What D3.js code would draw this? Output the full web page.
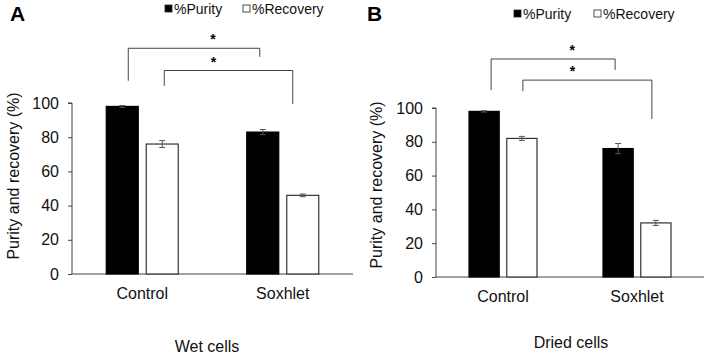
<!DOCTYPE html>
<html>
<head>
<meta charset="utf-8">
<script src="https://cdn.jsdelivr.net/npm/d3@7/dist/d3.min.js"></script>
<style>
  body { margin: 0; background: #fff; }
  svg { display: block; font-family: "Liberation Sans", Arial, sans-serif; }
</style>
</head>
<body>
<svg id="chart" width="706" height="354"></svg>
<script>
// data
let categories = ["Control", "Soxhlet"];
let series = ["%Purity", "%Recovery"];
let yTicks = [0, 20, 40, 60, 80, 100];

let wetPurity = [98, 83];
let wetPurityErr = [0.5, 1.5];
let wetRecovery = [76, 46];
let wetRecoveryErr = [2, 0.8];

let driedPurity = [98, 76];
let driedPurityErr = [0.4, 3];
let driedRecovery = [82, 32];
let driedRecoveryErr = [1.2, 1.5];

// significance brackets: [series index, top, left leg end, right leg end] in axis units
let wetBrackets = [[0, 132, 113, 127], [1, 119, 110, 99.5]];
let driedBrackets = [[0, 129, 110.5, 122.5], [1, 116.5, 110, 93.5]];

let panels = [
    {
        letter: "A", title: "Wet cells",
        purity: wetPurity, purityErr: wetPurityErr,
        recovery: wetRecovery, recoveryErr: wetRecoveryErr,
        brackets: wetBrackets,
        x0: 72, x1: 353, yTop: 103, yBottom: 274, half: 36,
        letterX: 10, legendX: 165, legendY: 9, legendGap: 78,
        yLabelX: 13, yLabelY: 176, catY: 299, titleX: 207, titleY: 352,
        bracketShift: [[6, -3], [2, -10]]
    },
    {
        letter: "B", title: "Dried cells",
        purity: driedPurity, purityErr: driedPurityErr,
        recovery: driedRecovery, recoveryErr: driedRecoveryErr,
        brackets: driedBrackets,
        x0: 436, x1: 704, yTop: 108, yBottom: 277, half: 34,
        letterX: 367, legendX: 514, legendY: 14, legendGap: 80,
        yLabelX: 376, yLabelY: 185, catY: 302, titleX: 571, titleY: 348,
        bracketShift: [[7, -3], [1, -4]]
    }
];

let svg = d3.select("#chart");

function drawPanel(p) {
    let g = svg.append("g");

    let x = d3.scaleBand().domain(categories).range([p.x0, p.x1]).padding(0);
    let xs = d3.scaleBand().domain(series).range([-p.half, p.half]).paddingInner(0.2);
    let y = d3.scaleLinear().domain([0, 100]).range([p.yBottom, p.yTop]);

    // y axis
    let yAxis = g.append("g")
        .attr("transform", "translate(" + p.x0 + ",0)")
        .call(d3.axisLeft(y).tickValues(yTicks).tickSize(4).tickPadding(9));
    yAxis.select(".domain").attr("stroke", "#444").attr("d", "M-4," + y(100) + "H0V" + y(0));
    yAxis.selectAll(".tick line").attr("stroke", "#444");
    yAxis.selectAll(".tick text").attr("font-size", 16).attr("fill", "#111")
        .attr("font-family", "Liberation Sans, Arial, sans-serif");

    // x axis line
    g.append("line")
        .attr("x1", p.x0).attr("x2", p.x1)
        .attr("y1", y(0)).attr("y2", y(0))
        .attr("stroke", "#444");

    let rows = [];
    categories.forEach(function (c, i) {
        rows.push({cat: c, s: series[0], v: p.purity[i], e: p.purityErr[i]});
        rows.push({cat: c, s: series[1], v: p.recovery[i], e: p.recoveryErr[i]});
    });

    function cx(d) {
        return x(d.cat) + x.bandwidth() / 2 + xs(d.s);
    }

    g.selectAll("rect.bar")
        .data(rows)
        .enter().append("rect")
        .attr("class", "bar")
        .attr("x", cx)
        .attr("width", xs.bandwidth())
        .attr("y", d => y(d.v))
        .attr("height", d => y(0) - y(d.v))
        .attr("fill", d => d.s === series[0] ? "#000" : "#fff")
        .attr("stroke", d => d.s === series[0] ? "#000" : "#333")
        .attr("stroke-width", 1.2);

    // error bars
    let eb = g.selectAll("g.err")
        .data(rows)
        .enter().append("g")
        .attr("stroke", "#555")
        .attr("stroke-width", 1);
    eb.append("line")
        .attr("x1", d => cx(d) + xs.bandwidth() / 2)
        .attr("x2", d => cx(d) + xs.bandwidth() / 2)
        .attr("y1", d => y(d.v + d.e))
        .attr("y2", d => y(d.v - d.e));
    [1, -1].forEach(function (sign) {
        eb.append("line")
            .attr("x1", d => cx(d) + xs.bandwidth() / 2 - 3)
            .attr("x2", d => cx(d) + xs.bandwidth() / 2 + 3)
            .attr("y1", d => y(d.v + sign * d.e))
            .attr("y2", d => y(d.v + sign * d.e));
    });

    // category labels
    g.selectAll("text.cat")
        .data(categories)
        .enter().append("text")
        .attr("x", d => x(d) + x.bandwidth() / 2)
        .attr("y", p.catY)
        .attr("text-anchor", "middle")
        .attr("font-size", 16)
        .attr("fill", "#111")
        .text(d => d);

    // brackets
    p.brackets.forEach(function (b, i) {
        let s = series[b[0]];
        let xl = x(categories[0]) + x.bandwidth() / 2 + xs(s) + xs.bandwidth() / 2 + p.bracketShift[i][0];
        let xr = x(categories[1]) + x.bandwidth() / 2 + xs(s) + xs.bandwidth() / 2 + p.bracketShift[i][1];
        g.append("path")
            .attr("d", "M" + xl + "," + y(b[2]) + "V" + y(b[1]) + "H" + xr + "V" + y(b[3]))
            .attr("fill", "none")
            .attr("stroke", "#444")
            .attr("stroke-width", 1);
        g.append("text")
            .attr("x", (xl + xr) / 2 + (i === 0 ? 19 : -15))
            .attr("y", y(b[1]) - 4)
            .attr("text-anchor", "middle")
            .attr("font-size", 14)
            .attr("font-weight", "bold")
            .text("*");
    });

    // y label
    g.append("text")
        .attr("transform", "translate(" + p.yLabelX + "," + p.yLabelY + ") rotate(-90)")
        .attr("text-anchor", "middle")
        .attr("dy", "0.35em")
        .attr("font-size", 16)
        .attr("fill", "#111")
        .text("Purity and recovery (%)");

    // panel letter
    g.append("text")
        .attr("x", p.letterX).attr("y", 21)
        .attr("font-size", 21)
        .attr("font-weight", "bold")
        .text(p.letter);

    // legend
    let lg = g.selectAll("g.leg")
        .data(series)
        .enter().append("g")
        .attr("transform", (d, i) => "translate(" + (p.legendX + i * p.legendGap) + "," + p.legendY + ")");
    lg.append("rect")
        .attr("x", 0).attr("y", -4)
        .attr("width", 7).attr("height", 7)
        .attr("fill", (d, i) => i === 0 ? "#000" : "#fff")
        .attr("stroke", "#222")
        .attr("stroke-width", 0.8);
    lg.append("text")
        .attr("x", 9).attr("y", 0)
        .attr("dy", "0.35em")
        .attr("font-size", 14)
        .attr("fill", "#111")
        .text(d => d);

    // panel title
    g.append("text")
        .attr("x", p.titleX).attr("y", p.titleY)
        .attr("text-anchor", "middle")
        .attr("font-size", 16)
        .attr("fill", "#111")
        .text(p.title);
}

panels.forEach(drawPanel);
</script>
</body>
</html>
